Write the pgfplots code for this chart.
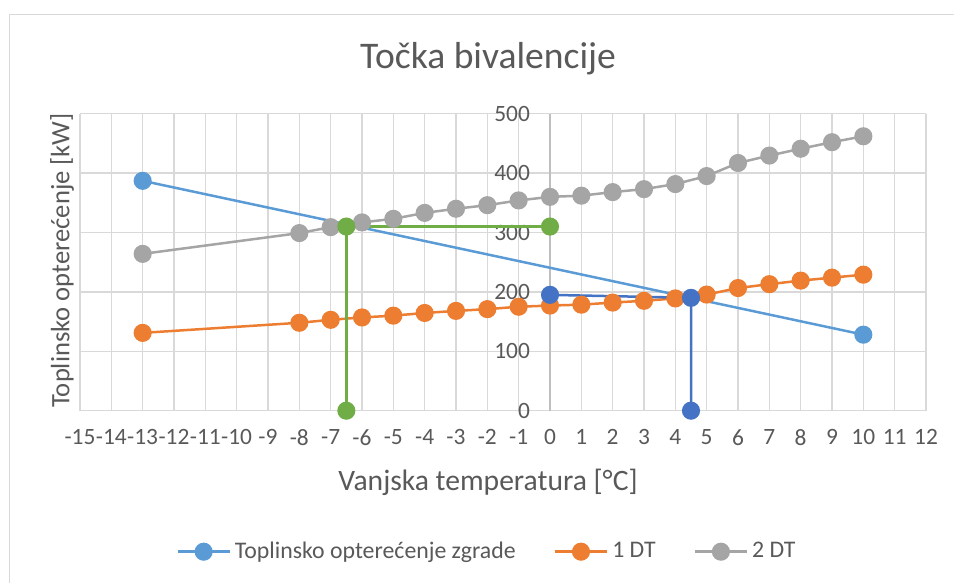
\documentclass[border=0pt]{standalone}
\usepackage{fontspec}
\setmainfont{Carlito}
\usepackage{pgfplots}
\pgfplotsset{compat=1.18}
\definecolor{txt}{HTML}{595959}
\definecolor{gridc}{HTML}{D9D9D9}
\definecolor{axc}{HTML}{BFBFBF}
\definecolor{loadc}{HTML}{5B9BD5}
\definecolor{dtone}{HTML}{ED7D31}
\definecolor{dttwo}{HTML}{A5A5A5}
\definecolor{helpg}{HTML}{70AD47}
\definecolor{helpb}{HTML}{4472C4}

\begin{document}
\begin{tikzpicture}[x=1pt,y=1pt]
\useasboundingbox (0,0) rectangle (477,291.5);
\draw[gridc, line width=0.8pt] (4.65,0) -- (4.65,284.15) -- (477,284.15);
\begin{axis}[
  at={(40pt,86.15pt)}, anchor=south west,
  scale only axis, width=423pt, height=148.5pt,
  xmin=-15, xmax=12, ymin=0, ymax=500,
  xtick={-15,...,12}, ytick={0,100,...,500},
  axis x line=bottom, axis y line=middle,
  hide obscured x ticks=false, hide obscured y ticks=false,
  x axis line style={draw=gridc, line width=0.75pt, -},
  y axis line style={draw=axc, line width=0.75pt, -},
  major tick length=0pt,
  grid=major, grid style={gridc, line width=0.75pt},
  tick label style={font=\fontsize{11.7}{14}\selectfont, text=txt},
  /pgf/number format/assume math mode=true,
  xticklabel style={yshift=-5.75pt},
  yticklabel style={xshift=-6.5pt},
  title={Točka bivalencije},
  every axis title/.style={at={(rel axis cs:0.5,1)}, anchor=center, xshift=-7.5pt, yshift=27.5pt,
    font=\fontsize{18.8}{22}\selectfont, text=txt},
  xlabel={Vanjska temperatura [°C]},
  every axis x label/.style={at={(rel axis cs:0.5,0)}, anchor=center, xshift=-7.5pt, yshift=-36pt,
    font=\fontsize{14.8}{18}\selectfont, text=txt},
  ylabel={Toplinsko opterećenje [kW]},
  every axis y label/.style={at={(rel axis cs:0,0.5)}, anchor=center, xshift=-9pt, yshift=0.9pt, rotate=90,
    font=\fontsize{13.3}{16}\selectfont, text=txt},
  legend style={at={(rel axis cs:0.5,0)}, anchor=center, xshift=-7.5pt, yshift=-70.5pt,
    draw=none, fill=none, legend columns=-1, font=\fontsize{11.9}{14}\selectfont, text=txt,
    /tikz/every even column/.append style={column sep=17pt}},
  legend image code/.code={\draw[mark repeat=2, mark phase=2] plot coordinates {(0pt,0pt) (13pt,0pt) (26pt,0pt)};},
  every axis plot/.append style={line width=1.25pt, mark=*, mark size=3.9pt},
]
\addplot[loadc, mark options={fill=loadc}] coordinates {(-13,387) (10,128)};
\addplot[dtone, mark options={fill=dtone}] coordinates {
  (-13,131) (-8,148) (-7,153) (-6,157) (-5,160) (-4,164.5) (-3,168) (-2,171) (-1,175)
  (0,177) (1,178.5) (2,182) (3,185) (4,189) (5,195.5) (6,206.5) (7,213) (8,219) (9,224) (10,229)};
\addplot[dttwo, mark options={fill=dttwo}] coordinates {
  (-13,264) (-8,299) (-7,309) (-6,317) (-5,323) (-4,333) (-3,340) (-2,346) (-1,354)
  (0,360) (1,362) (2,368) (3,373) (4,381.5) (5,395) (6,417) (7,429.5) (8,441) (9,452) (10,462)};
\addplot[helpg, mark options={fill=helpg}, forget plot] coordinates {(0,310) (-6.5,310) (-6.5,0)};
\addplot[helpb, mark options={fill=helpb}, forget plot] coordinates {(0,195) (4.5,190) (4.5,0)};
\legend{Toplinsko opterećenje zgrade, 1 DT, 2 DT}
\end{axis}
\end{tikzpicture}
\end{document}
